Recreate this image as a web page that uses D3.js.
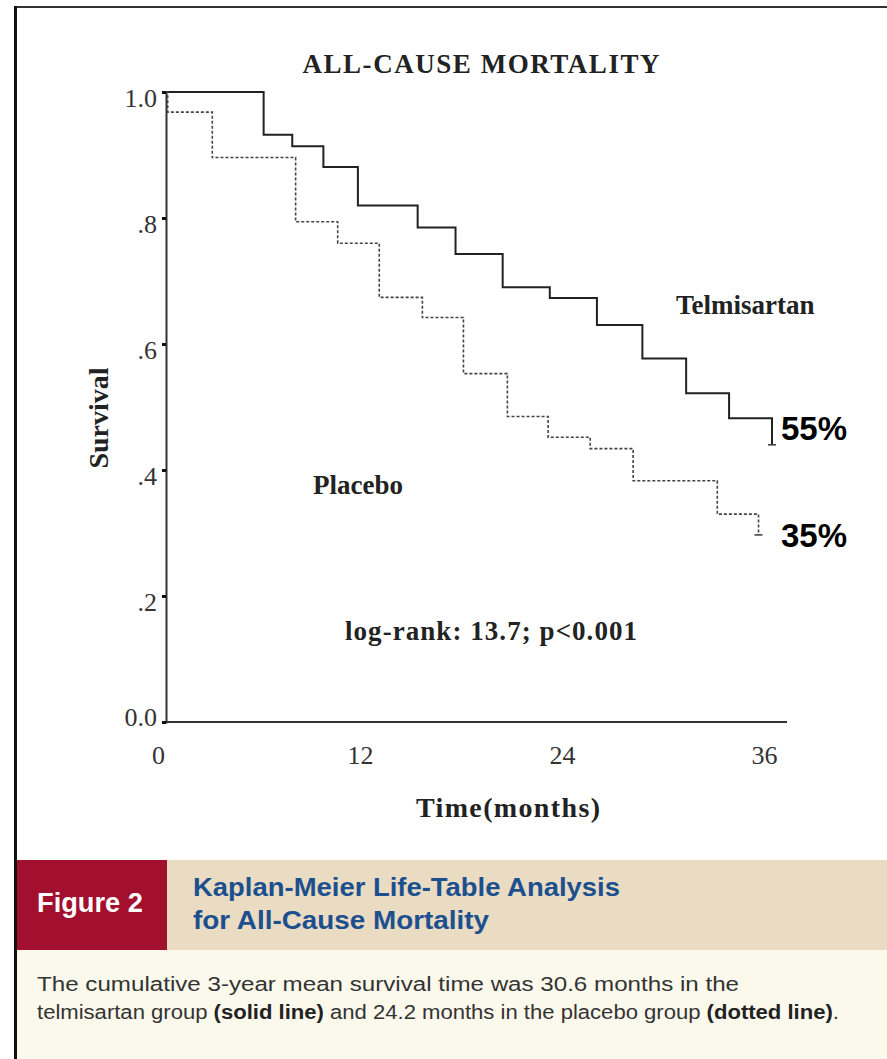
<!DOCTYPE html>
<html>
<head>
<meta charset="utf-8">
<script src="https://cdn.jsdelivr.net/npm/d3@7"></script>
<style>
  body { margin: 0; background: #fff; }
  svg { display: block; }
  .serif { font-family: "Liberation Serif", "Times New Roman", serif; }
  .narrow { font-family: "Liberation Sans Narrow", "Arial Narrow", "Liberation Sans", Arial, sans-serif; }
</style>
</head>
<body>
<svg width="887" height="1059"></svg>
<script>
// Kaplan-Meier steps (months, survival)
const telTime = [0, 5.8, 7.5, 9.35, 11.4, 14.95, 17.2, 20.0, 22.8, 25.6, 28.3, 30.9, 33.45, 36];
const telSurv = [1.0, 0.932, 0.914, 0.881, 0.82, 0.785, 0.743, 0.69, 0.673, 0.63, 0.577, 0.522, 0.482, 0.44];
const plaTime = [0, 0.1, 2.75, 7.7, 10.2, 12.67, 15.23, 17.67, 20.28, 22.7, 25.2, 27.75, 32.75, 35.2];
const plaSurv = [1.0, 0.968, 0.896, 0.794, 0.76, 0.674, 0.642, 0.553, 0.485, 0.452, 0.434, 0.383, 0.33, 0.297];
const xTicks = [0, 12, 24, 36];
const yTicks = [0, 0.2, 0.4, 0.6, 0.8, 1.0];
const endLabels = ["55%", "35%"];

const svg = d3.select("svg");

const x = d3.scaleLinear().domain([0, 36]).range([166, 772]);
const y = d3.scaleLinear().domain([0, 1]).range([722, 92]);

// outer frame
svg.append("line").attr("x1", 15).attr("x2", 887).attr("y1", 7).attr("y2", 7)
  .attr("stroke", "#333").attr("stroke-width", 2);
svg.append("line").attr("x1", 15.5).attr("x2", 15.5).attr("y1", 6).attr("y2", 1059)
  .attr("stroke", "#111").attr("stroke-width", 3);

// title
svg.append("text").attr("class", "serif")
  .attr("x", 481).attr("y", 73).attr("text-anchor", "middle")
  .attr("font-size", 27).attr("font-weight", "bold").attr("fill", "#222")
  .attr("textLength", 357)
  .text("ALL-CAUSE MORTALITY");

// y axis
const yAxis = d3.axisLeft(y)
  .tickValues(yTicks)
  .tickSize(4)
  .tickFormat(d => d === 0 ? "0.0" : d === 1 ? "1.0" : d3.format(".1f")(d).replace(/^0/, ""));
const gy = svg.append("g").attr("transform", `translate(${x(0)},0)`).call(yAxis);
gy.select(".domain").attr("stroke", "#333").attr("stroke-width", 2);
gy.selectAll(".tick line").attr("stroke", "#111").attr("stroke-width", 3);
gy.selectAll(".tick text").attr("class", "serif")
  .attr("font-size", 26).attr("fill", "#333").attr("x", -9)
  .attr("dy", d => d === 0 ? "0.15em" : "0.55em");

// x axis
const xAxis = d3.axisBottom(x).tickValues(xTicks).tickSize(0).tickPadding(24);
const gx = svg.append("g").attr("transform", `translate(0,${y(0)})`).call(xAxis);
gx.select(".domain").remove();
gx.selectAll(".tick text").attr("class", "serif")
  .attr("font-size", 26).attr("fill", "#333").attr("dx", -8);
svg.append("line")
  .attr("x1", x(0)).attr("x2", x(36) + 15).attr("y1", y(0)).attr("y2", y(0))
  .attr("stroke", "#333").attr("stroke-width", 2);

// curves
const line = d3.line().x(d => x(d[0])).y(d => y(d[1])).curve(d3.curveStepAfter);
const tel = d3.zip(telTime, telSurv);
const pla = d3.zip(plaTime, plaSurv);

svg.append("path").datum(tel).attr("d", line)
  .attr("fill", "none").attr("stroke", "#222").attr("stroke-width", 2);
svg.append("path").datum(pla).attr("d", line)
  .attr("fill", "none").attr("stroke", "#444").attr("stroke-width", 1.6)
  .attr("stroke-dasharray", "3,2");

// censor marks at curve ends
const ends = [tel[tel.length - 1], pla[pla.length - 1]];
svg.selectAll(".censor").data(ends).enter().append("line")
  .attr("class", "censor")
  .attr("x1", d => x(d[0]) - 4).attr("x2", d => x(d[0]) + 4)
  .attr("y1", d => y(d[1])).attr("y2", d => y(d[1]))
  .attr("stroke", "#444").attr("stroke-width", 1.6);

// in-plot labels
svg.append("text").attr("class", "serif").attr("x", 676).attr("y", 314)
  .attr("font-size", 27).attr("font-weight", "bold").attr("fill", "#222")
  .text("Telmisartan");
svg.append("text").attr("class", "serif").attr("x", 313).attr("y", 494)
  .attr("font-size", 27).attr("font-weight", "bold").attr("fill", "#222")
  .text("Placebo");
svg.append("text").attr("class", "serif").attr("x", 345).attr("y", 640)
  .attr("font-size", 27).attr("font-weight", "bold").attr("fill", "#222")
  .attr("textLength", 292)
  .text("log-rank: 13.7; p<0.001");

// axis titles
svg.append("text").attr("class", "serif")
  .attr("transform", "translate(108,418) rotate(-90)").attr("text-anchor", "middle")
  .attr("font-size", 28).attr("font-weight", "bold").attr("fill", "#222")
  .text("Survival");
svg.append("text").attr("class", "serif")
  .attr("x", 508).attr("y", 817).attr("text-anchor", "middle")
  .attr("font-size", 28).attr("font-weight", "bold").attr("fill", "#222")
  .attr("textLength", 184)
  .text("Time(months)");

// percentage annotations
svg.selectAll(".pct").data(endLabels).enter().append("text")
  .attr("class", "pct")
  .attr("x", 781).attr("y", (d, i) => [440, 547][i])
  .attr("font-family", "'Liberation Sans', Arial, sans-serif")
  .attr("font-size", 33).attr("font-weight", "bold").attr("fill", "#000")
  .text(d => d);

// caption band
svg.append("rect").attr("x", 17).attr("y", 860).attr("width", 870).attr("height", 90).attr("fill", "#E9DCC3");
svg.append("rect").attr("x", 17).attr("y", 860).attr("width", 150).attr("height", 90).attr("fill", "#A30F2E");
svg.append("rect").attr("x", 17).attr("y", 950).attr("width", 870).attr("height", 109).attr("fill", "#FBF8EC");

svg.append("text").attr("class", "narrow")
  .attr("x", 37).attr("y", 912)
  .attr("font-size", 27).attr("font-weight", "bold").attr("fill", "#fff")
  .attr("textLength", 106).attr("lengthAdjust", "spacingAndGlyphs")
  .text("Figure 2");

const heading = ["Kaplan-Meier Life-Table Analysis", "for All-Cause Mortality"];
const headW = [427, 296];
svg.selectAll(".head").data(heading).enter().append("text")
  .attr("class", "narrow head")
  .attr("x", 193).attr("y", (d, i) => 896 + i * 33)
  .attr("font-size", 26).attr("font-weight", "bold").attr("fill", "#1D4F8E")
  .attr("textLength", (d, i) => headW[i]).attr("lengthAdjust", "spacingAndGlyphs")
  .text(d => d);

svg.append("text").attr("class", "narrow")
  .attr("x", 37).attr("y", 991).attr("font-size", 20).attr("fill", "#333")
  .attr("textLength", 702).attr("lengthAdjust", "spacingAndGlyphs")
  .text("The cumulative 3-year mean survival time was 30.6 months in the");
const body2 = svg.append("text").attr("class", "narrow")
  .attr("x", 37).attr("y", 1019).attr("font-size", 20).attr("fill", "#333")
  .attr("textLength", 802).attr("lengthAdjust", "spacingAndGlyphs");
body2.append("tspan").text("telmisartan group ");
body2.append("tspan").attr("font-weight", "bold").attr("fill", "#222").text("(solid line)");
body2.append("tspan").text(" and 24.2 months in the placebo group ");
body2.append("tspan").attr("font-weight", "bold").attr("fill", "#222").text("(dotted line)");
body2.append("tspan").text(".");
</script>
</body>
</html>
